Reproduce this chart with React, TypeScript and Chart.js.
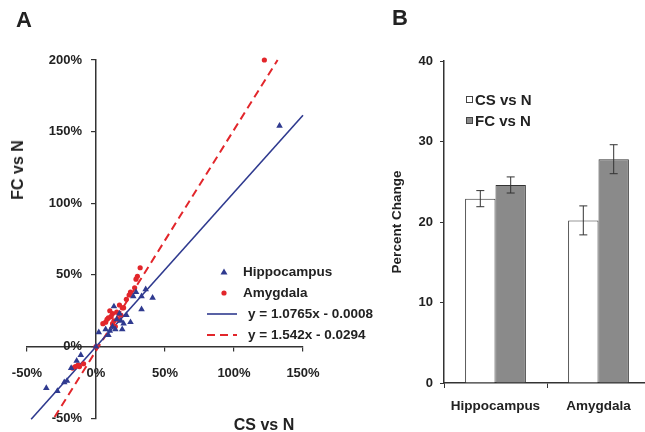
import React, { useEffect, useRef } from "react";
import { Chart, registerables } from "chart.js";
Chart.register(...registerables);

// ---------- Panel A data (fractions: 1 = 100%) ----------
const hippoX = [1.33, 0.41, 0.36, 0.33, 0.29, 0.33, 0.25, 0.18, 0.12, 0.07, 0.13, 0.17, 0.02, 0.22, 0.2, 0.1, 0.15, 0.27, 0.09, 0.14, 0.19, 0.0, -0.14, -0.18, -0.21, -0.28, -0.36, -0.23, -0.11];
const hippoY = [1.54, 0.34, 0.4, 0.35, 0.38, 0.26, 0.17, 0.18, 0.14, 0.12, 0.28, 0.23, 0.1, 0.22, 0.16, 0.11, 0.19, 0.35, 0.08, 0.12, 0.12, 0.0, -0.1, -0.15, -0.24, -0.31, -0.29, -0.25, -0.06];
const amygX = [1.22, 0.32, 0.3, 0.29, 0.28, 0.25, 0.24, 0.22, 0.19, 0.17, 0.15, 0.13, 0.12, 0.11, 0.09, 0.07, 0.05, 0.14, 0.1, 0.18, 0.2, 0.16, 0.12, 0.08, 0.0, -0.09, -0.12, -0.15, -0.17, -0.13];
const amygY = [2.0, 0.55, 0.49, 0.47, 0.41, 0.38, 0.36, 0.33, 0.27, 0.29, 0.24, 0.18, 0.23, 0.21, 0.2, 0.17, 0.16, 0.14, 0.25, 0.22, 0.27, 0.19, 0.16, 0.19, 0.0, -0.12, -0.14, -0.14, -0.15, -0.13];
const hippoFitX = [-0.47, 1.5];
const hippoFitY = [-0.507, 1.614];
const amygFitX = [-0.3, 1.316];
const amygFitY = [-0.492, 2.0];
const xTicksA = [-0.5, 0, 0.5, 1, 1.5];
const yTicksA = [-0.5, 0, 0.5, 1, 1.5, 2];
const legendA = ["Hippocampus", "Amygdala", "y = 1.0765x - 0.0008", "y = 1.542x - 0.0294"];

// ---------- Panel B data ----------
const regions = ["Hippocampus", "Amygdala"];
const seriesNames = ["CS vs N", "FC vs N"];
const csVsN = [22.9, 20.2];
const fcVsN = [24.6, 27.8];
const csErr = [1.0, 1.8];
const fcErr = [1.0, 1.8];
const yTicksB = [0, 10, 20, 30, 40];

const FONT = "'Liberation Sans', Arial, Helvetica, sans-serif";
const BLUE = "#2f3a8f";
const RED = "#e2262b";
const AXIS = "#333333";
const TEXT = "#222222";
const GRAY = "#8a8a8a";

const pct = (v: number) => Math.round(v * 100) + "%";

const errorBars = {
  id: "errorBars",
  afterDatasetsDraw(chart: any) {
    const ctx = chart.ctx;
    const yS = chart.scales.y;
    const errs = [csErr, fcErr];
    chart.data.datasets.forEach((ds: any, di: number) => {
      const meta = chart.getDatasetMeta(di);
      meta.data.forEach((bar: any, i: number) => {
        const v = ds.data[i];
        const e = errs[di][i];
        const x = bar.x;
        const yt = yS.getPixelForValue(v + e);
        const yb = yS.getPixelForValue(v - e);
        ctx.save();
        ctx.strokeStyle = AXIS;
        ctx.lineWidth = 1;
        ctx.beginPath();
        ctx.moveTo(x, yt);
        ctx.lineTo(x, yb);
        ctx.moveTo(x - 4, yt);
        ctx.lineTo(x + 4, yt);
        ctx.moveTo(x - 4, yb);
        ctx.lineTo(x + 4, yb);
        ctx.stroke();
        ctx.restore();
      });
    });
  },
};

// labels of axes positioned at 0 sit on the axis line; move them off it
const shiftLabels = {
  id: "shiftLabels",
  beforeDraw(chart: any) {
    const x0 = chart.scales.x.getPixelForValue(0);
    chart.scales.y.getLabelItems().forEach((it: any) => {
      it.options.translation[0] = x0 - 14;
    });
    chart.scales.x.getLabelItems().forEach((it: any) => {
      if (it._origY === undefined) it._origY = it.options.translation[1];
      it.options.translation[1] = it._origY + 9;
    });
  },
};

function T(props: { x: number; y: number; size: number; text: string; rotate?: boolean; left?: boolean; weight?: string }) {
  const { x, y, size, text, rotate, left, weight } = props;
  const tf = left ? "translate(0,-50%)" : rotate ? "translate(-50%,-50%) rotate(-90deg)" : "translate(-50%,-50%)";
  return (
    <div
      style={{
        position: "absolute",
        left: x,
        top: y,
        transform: tf,
        fontFamily: FONT,
        fontWeight: (weight || "bold") as any,
        fontSize: size,
        lineHeight: 1,
        whiteSpace: "nowrap",
        color: TEXT,
      }}
    >
      {text}
    </div>
  );
}

export default function App() {
  const refA = useRef<HTMLCanvasElement>(null);
  const refB = useRef<HTMLCanvasElement>(null);

  useEffect(() => {
    const tickFont = { family: FONT, size: 13, weight: "bold" as const };
    const chartA = new Chart(refA.current!, {
      type: "scatter",
      data: {
        datasets: [
          {
            label: legendA[0],
            data: hippoX.map((x, i) => ({ x, y: hippoY[i] })),
            pointStyle: "triangle",
            pointRadius: 3.8,
            backgroundColor: BLUE,
            borderColor: BLUE,
            borderWidth: 0,
            clip: false,
          },
          {
            label: legendA[1],
            data: amygX.map((x, i) => ({ x, y: amygY[i] })),
            pointStyle: "circle",
            pointRadius: 2.6,
            backgroundColor: RED,
            borderColor: RED,
            borderWidth: 0,
            clip: false,
          },
          {
            label: legendA[2],
            data: hippoFitX.map((x, i) => ({ x, y: hippoFitY[i] })),
            showLine: true,
            pointRadius: 0,
            borderColor: BLUE,
            borderWidth: 1.6,
            clip: false,
          },
          {
            label: legendA[3],
            data: amygFitX.map((x, i) => ({ x, y: amygFitY[i] })),
            showLine: true,
            pointRadius: 0,
            borderColor: RED,
            borderWidth: 2,
            borderDash: [8, 5],
            clip: false,
          },
        ],
      } as any,
      options: {
        responsive: false,
        animation: false,
        layout: { padding: { left: 27, right: 77, top: 60, bottom: 9 } },
        plugins: { legend: { display: false }, tooltip: { enabled: false } },
        scales: {
          x: {
            type: "linear",
            position: { y: 0 } as any,
            min: -0.5,
            max: 1.5,
            afterBuildTicks: (s: any) => {
              s.ticks = xTicksA.map((v) => ({ value: v }));
            },
            ticks: { callback: (v: any) => pct(v), font: tickFont, color: TEXT, padding: 6, maxRotation: 0, autoSkip: false },
            grid: { display: true, drawOnChartArea: false, drawTicks: true, tickLength: 4, color: AXIS, lineWidth: 1.2 },
            border: { display: true, color: AXIS, width: 1.5 },
          },
          y: {
            type: "linear",
            position: { x: 0 } as any,
            min: -0.5,
            max: 2,
            afterBuildTicks: (s: any) => {
              s.ticks = yTicksA.map((v) => ({ value: v }));
            },
            ticks: { callback: (v: any) => pct(v), font: tickFont, color: TEXT, padding: 6, autoSkip: false },
            grid: { display: true, drawOnChartArea: false, drawTicks: true, tickLength: 4, color: AXIS, lineWidth: 1.2 },
            border: { display: true, color: AXIS, width: 1.5 },
          },
        },
      } as any,
      plugins: [shiftLabels],
    });

    const chartB = new Chart(refB.current!, {
      type: "bar",
      data: {
        labels: regions,
        datasets: [
          { label: seriesNames[0], data: csVsN, backgroundColor: "#ffffff", borderColor: AXIS, borderWidth: 1 },
          { label: seriesNames[1], data: fcVsN, backgroundColor: GRAY, borderColor: AXIS, borderWidth: 1 },
        ],
      },
      options: {
        responsive: false,
        animation: false,
        layout: { padding: { left: 0, right: 0, top: 61, bottom: 0 } },
        datasets: { bar: { categoryPercentage: 0.59, barPercentage: 1 } },
        plugins: { legend: { display: false }, tooltip: { enabled: false } },
        scales: {
          x: {
            afterFit: (s: any) => {
              s.height = 49;
            },
            ticks: { font: { family: FONT, size: 13.5, weight: "bold" }, color: TEXT, padding: 10 },
            grid: { display: true, drawOnChartArea: false, drawTicks: true, tickLength: 5, color: AXIS, offset: true },
            border: { display: true, color: AXIS, width: 1.5 },
          },
          y: {
            min: 0,
            max: 40,
            afterBuildTicks: (s: any) => {
              s.ticks = yTicksB.map((v) => ({ value: v }));
            },
            afterFit: (s: any) => {
              s.width = 64;
            },
            ticks: { font: tickFont, color: TEXT, padding: 7 },
            title: { display: true, text: "Percent Change", font: { family: FONT, size: 13.5, weight: "bold" }, color: TEXT, padding: { top: 9, bottom: 0 } },
            grid: { display: true, drawOnChartArea: false, drawTicks: true, tickLength: 4, color: AXIS },
            border: { display: true, color: AXIS, width: 1.5 },
          },
        },
      } as any,
      plugins: [errorBars],
    });

    return () => {
      chartA.destroy();
      chartB.destroy();
    };
  }, []);

  return (
    <div style={{ position: "absolute", left: 0, top: 0, width: 645, height: 432, overflow: "hidden", background: "#fff" }}>
      <div style={{ position: "absolute", left: 0, top: 0, width: 380, height: 432 }}>
        <canvas ref={refA} width={380} height={432} style={{ width: 380, height: 432, display: "block" }} />
      </div>
      <div style={{ position: "absolute", left: 380, top: 0, width: 270, height: 432 }}>
        <canvas ref={refB} width={270} height={432} style={{ width: 270, height: 432, display: "block" }} />
      </div>

      <T x={24} y={20} size={22} text="A" />
      <T x={400} y={18} size={22} text="B" />
      <T x={18} y={170} size={16} text="FC vs N" rotate />
      <T x={264} y={425} size={16} text="CS vs N" />

      {/* Panel A legend */}
      <svg style={{ position: "absolute", left: 200, top: 260, width: 45, height: 90 }} width={45} height={90}>
        <polygon points="24,8.5 20.5,14.5 27.5,14.5" fill={BLUE} />
        <circle cx={24} cy={33} r={2.6} fill={RED} />
        <line x1={7} y1={54} x2={37} y2={54} stroke={BLUE} strokeWidth={1.6} />
        <line x1={7} y1={75} x2={37} y2={75} stroke={RED} strokeWidth={2} strokeDasharray="8,5" />
      </svg>
      <T x={243} y={272} size={13.5} text={legendA[0]} left />
      <T x={243} y={293} size={13.5} text={legendA[1]} left />
      <T x={248} y={314} size={13.5} text={legendA[2]} left />
      <T x={248} y={335} size={13.5} text={legendA[3]} left />

      {/* Panel B legend */}
      <div style={{ position: "absolute", left: 466, top: 96, width: 5, height: 5, border: "1px solid #444", background: "#fff" }} />
      <div style={{ position: "absolute", left: 466, top: 117, width: 5, height: 5, border: "1px solid #444", background: GRAY }} />
      <T x={475} y={99} size={15} text={seriesNames[0]} left />
      <T x={475} y={120} size={15} text={seriesNames[1]} left />
    </div>
  );
}
